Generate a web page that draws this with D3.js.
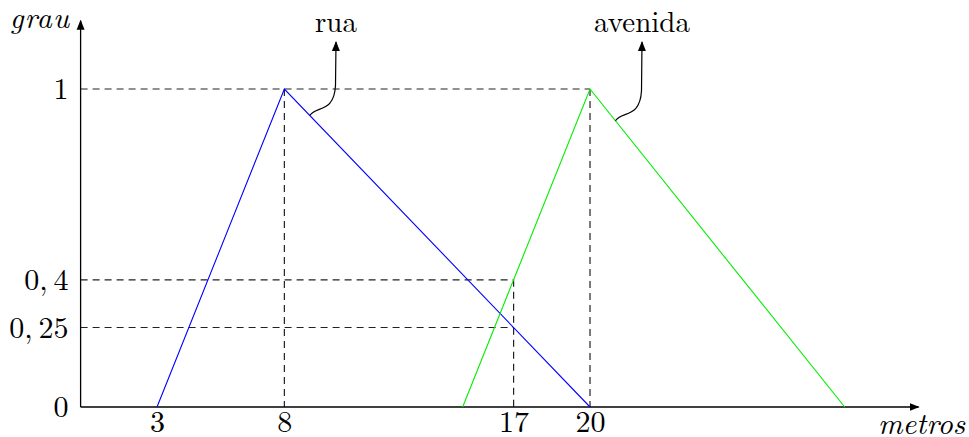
<!DOCTYPE html>
<html>
<head>
<meta charset="utf-8">
<script src="https://cdn.jsdelivr.net/npm/d3@7"></script>
<style>
  body { margin: 0; background: #fff; }
</style>
</head>
<body>
<svg id="chart" width="969" height="437"></svg>
<script>
// fuzzy sets: x in metros, y in grau
var ruaX = [3, 8, 20];
var ruaY = [0, 1, 0];
var avenidaX = [15, 20, 30];
var avenidaY = [0, 1, 0];

var xTicks = [3, 8, 17, 20];
var yTicks = [0, 0.25, 0.4, 1];
var yTickLabels = ["0", "0,\u200925", "0,\u20094", "1"];

// dashed guides [x0, y0, x1, y1]
var guides = [
  [0, 1, 20, 1],
  [8, 1, 8, 0],
  [20, 1, 20, 0],
  [0, 0.4, 17, 0.4],
  [0, 0.25, 17, 0.25],
  [17, 0.4, 17, 0]
];

var FONT = "'Latin Modern Roman', 'CMU Serif', 'Liberation Serif', serif";

var svg = d3.select("#chart");

var x = d3.scaleLinear().domain([0, 17]).range([80.6, 513.6]);
var y = d3.scaleLinear().domain([0, 1]).range([407, 89]);

var defs = svg.append("defs");
defs.append("marker")
  .attr("id", "arr")
  .attr("viewBox", "0 0 10 10")
  .attr("refX", 9).attr("refY", 5)
  .attr("markerWidth", 10).attr("markerHeight", 10)
  .attr("markerUnits", "userSpaceOnUse")
  .attr("orient", "auto")
  .append("path")
  .attr("d", "M0,1 L10,5 L0,9 Z")
  .attr("fill", "#000");

// guides
svg.selectAll("line.guide")
  .data(guides)
  .enter().append("line")
  .attr("class", "guide")
  .attr("x1", function (d) { return x(d[0]); })
  .attr("y1", function (d) { return y(d[1]); })
  .attr("x2", function (d) { return x(d[2]); })
  .attr("y2", function (d) { return y(d[3]); })
  .attr("stroke", "#222")
  .attr("stroke-width", 1.2)
  .attr("stroke-dasharray", "7,5");

// axes
svg.append("line")
  .attr("x1", x(0)).attr("y1", y(0))
  .attr("x2", x(32.9)).attr("y2", y(0))
  .attr("stroke", "#000").attr("stroke-width", 1.3)
  .attr("marker-end", "url(#arr)");
svg.append("line")
  .attr("x1", x(0)).attr("y1", y(0))
  .attr("x2", x(0)).attr("y2", y(1.215))
  .attr("stroke", "#000").attr("stroke-width", 1.3)
  .attr("marker-end", "url(#arr)");

var xAxis = d3.axisBottom(x).tickValues(xTicks).tickSize(0).tickPadding(4);
var gx = svg.append("g").attr("transform", "translate(0," + y(0) + ")").call(xAxis);
gx.select(".domain").remove();
gx.selectAll("text").style("font-size", "30px").style("font-family", FONT).attr("fill", "#000");

var yAxis = d3.axisLeft(y).tickValues(yTicks).tickSize(0).tickPadding(12)
  .tickFormat(function (d, i) { return yTickLabels[i]; });
var gy = svg.append("g").attr("transform", "translate(" + x(0) + ",0)").call(yAxis);
gy.select(".domain").remove();
gy.selectAll("text").style("font-size", "30px").style("font-family", FONT).attr("fill", "#000");

// membership lines
var line = d3.line()
  .x(function (d) { return x(d[0]); })
  .y(function (d) { return y(d[1]); });

svg.append("path")
  .datum(d3.zip(ruaX, ruaY))
  .attr("d", line)
  .attr("fill", "none")
  .attr("stroke", "#0000ff")
  .attr("stroke-width", 1.1);

svg.append("path")
  .datum(d3.zip(avenidaX, avenidaY))
  .attr("d", line)
  .attr("fill", "none")
  .attr("stroke", "#00ee00")
  .attr("stroke-width", 1.1);

// curly pointers to labels
function pointer(px, py, lx, ly) {
  var p = d3.path();
  p.moveTo(px, py);
  p.bezierCurveTo(px + 6, py - 10, lx - 2, py - 2, lx - 0.5, py - 30);
  p.lineTo(lx, ly);
  return p.toString();
}
var labels = [
  { name: "rua", at: 9, val: 11 / 12, lx: 336 },
  { name: "avenida", at: 21, val: 0.9, lx: 642 }
];
labels.forEach(function (l) {
  var px = x(l.at), py = y(l.val);
  svg.append("path")
    .attr("d", pointer(px, py, l.lx, 42))
    .attr("fill", "none")
    .attr("stroke", "#000")
    .attr("stroke-width", 1.2)
    .attr("marker-end", "url(#arr)");
  svg.append("text")
    .attr("x", l.lx).attr("y", 32)
    .attr("text-anchor", "middle")
    .style("font-family", FONT)
    .style("font-size", "29px")
    .text(l.name);
});

// axis names
svg.append("text")
  .attr("x", 70).attr("y", 28)
  .attr("text-anchor", "end")
  .style("font-family", FONT)
  .style("font-size", "30px")
  .style("font-style", "italic")
  .style("letter-spacing", "1px")
  .text("grau");
svg.append("text")
  .attr("x", 965).attr("y", 434)
  .attr("text-anchor", "end")
  .style("font-family", FONT)
  .style("font-size", "30px")
  .style("font-style", "italic")
  .text("metros");
</script>
</body>
</html>
